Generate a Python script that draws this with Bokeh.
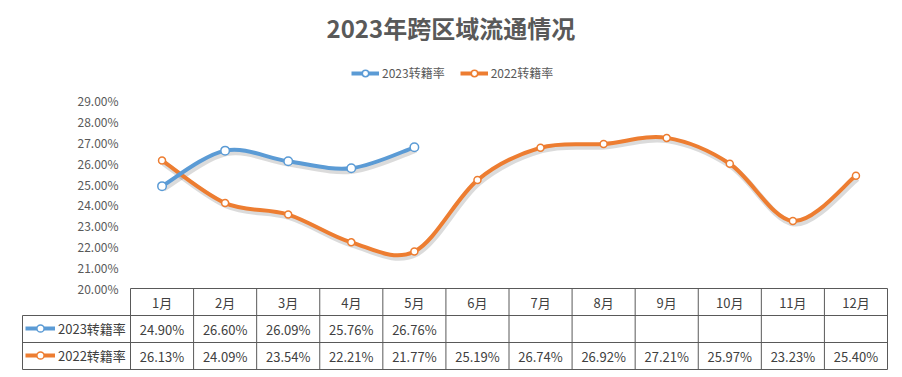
import numpy as np
from bokeh.plotting import figure
from bokeh.models import Range1d, Legend, LegendItem
from bokeh.core.properties import value
from bokeh.embed import file_html
from bokeh.resources import INLINE

# ---------------- data ----------------
title_text = "2023年跨区域流通情况"
months = ["1月", "2月", "3月", "4月", "5月", "6月", "7月", "8月", "9月", "10月", "11月", "12月"]
name_2023 = "2023转籍率"
name_2022 = "2022转籍率"
rate_2023 = [0.2490, 0.2660, 0.2609, 0.2576, 0.2676]
rate_2022 = [0.2613, 0.2409, 0.2354, 0.2221, 0.2177, 0.2519,
             0.2674, 0.2692, 0.2721, 0.2597, 0.2323, 0.2540]
y_ticks = [0.20, 0.21, 0.22, 0.23, 0.24, 0.25, 0.26, 0.27, 0.28, 0.29]
y_tick_labels = ["20.00%", "21.00%", "22.00%", "23.00%", "24.00%",
                 "25.00%", "26.00%", "27.00%", "28.00%", "29.00%"]

# ---------------- style / layout ----------------
FONT = "Noto Sans CJK SC"
BLUE = "#5B9BD5"
ORANGE = "#ED7D31"
GRID = "#595959"
TXT = "#404040"
W, H = 902, 377
F_LEFT, F_RIGHT, F_TOP, F_BOTTOM = 20, 890, 50, 374    # frame in pixels
PLOT_LEFT_PX = 130                                     # x pixel of the first month column edge
TABLE_LEFT_PX = 22
COL_W = (887 - 130) / 12.0                             # px per month column
PX_PER_UNIT = (288 - 100) / 0.09                       # px per 1.0 of rate
ROW_H = 27.0
TABLE_BOTTOM = 369
AXIS_BOTTOM_PX = 288
TICK_LABEL_RIGHT_PX = 118
KEY_H = 18

frame_w = F_RIGHT - F_LEFT
frame_h = F_BOTTOM - F_TOP
x0r = -(PLOT_LEFT_PX - F_LEFT) / COL_W
x_range = Range1d(x0r, x0r + frame_w / COL_W)
y0 = y_ticks[0] - (F_BOTTOM - AXIS_BOTTOM_PX) / PX_PER_UNIT
y_range = Range1d(y0, y0 + frame_h / PX_PER_UNIT)

p = figure(width=W, height=H, x_range=x_range, y_range=y_range,
           output_backend="svg", toolbar_location=None,
           x_axis_location=None, y_axis_location=None,
           min_border_left=F_LEFT, min_border_right=W - F_RIGHT,
           min_border_top=F_TOP, min_border_bottom=H - F_BOTTOM,
           title=title_text)
p.extra_y_ranges = {"table": Range1d(-(F_BOTTOM - TABLE_BOTTOM) / ROW_H,
                                     (TABLE_BOTTOM - F_TOP) / ROW_H)}
p.outline_line_color = None
p.xgrid.visible = False
p.ygrid.visible = False
p.background_fill_color = "white"
p.border_fill_color = "white"

p.title.align = "left"
p.title.offset = 306
p.title.standoff = 12
p.title.text_font = FONT
p.title.text_font_size = "24px"
p.title.text_font_style = "bold"
p.title.text_color = "#595959"

# y tick labels (value axis), placed through the y scale
tick_x = (TICK_LABEL_RIGHT_PX - PLOT_LEFT_PX) / COL_W
p.text(x=[tick_x] * len(y_ticks), y=y_ticks, text=y_tick_labels,
       text_align="right", text_baseline="middle", text_font=value(FONT),
       text_font_size="12px", text_color="#595959")


def smooth_segments(xs, ys, t=1.0 / 6.0):
    P = np.column_stack([np.asarray(xs, float), np.asarray(ys, float)])
    n = len(P)
    out = {k: [] for k in ("x0", "y0", "x1", "y1", "cx0", "cy0", "cx1", "cy1")}
    for i in range(n - 1):
        pp = P[max(i - 1, 0)]
        a = P[i]
        b = P[i + 1]
        nn = P[min(i + 2, n - 1)]
        c0 = a + (b - pp) * t
        c1 = b - (nn - a) * t
        out["x0"].append(a[0]); out["y0"].append(a[1])
        out["x1"].append(b[0]); out["y1"].append(b[1])
        out["cx0"].append(c0[0]); out["cy0"].append(c0[1])
        out["cx1"].append(c1[0]); out["cy1"].append(c1[1])
    return out


x23 = np.arange(len(rate_2023)) + 0.5
x22 = np.arange(len(rate_2022)) + 0.5

# soft shadows
SDX = 1.5 / COL_W
SDY = -2.5 / PX_PER_UNIT
for xs, ys in ((x22, rate_2022), (x23, rate_2023)):
    s = smooth_segments(xs + SDX, np.asarray(ys) + SDY)
    p.bezier(line_color="#000000", line_alpha=0.14, line_width=6, **s)

seg22 = smooth_segments(x22, rate_2022)
r22_line = p.bezier(line_color=ORANGE, line_width=4, **seg22)
seg23 = smooth_segments(x23, rate_2023)
r23_line = p.bezier(line_color=BLUE, line_width=4, **seg23)
r22_pts = p.scatter(x22, rate_2022, size=7, marker="circle", fill_color="white",
                    line_color=ORANGE, line_width=1.5)
r23_pts = p.scatter(x23, rate_2023, size=8.5, marker="circle", fill_color="white",
                    line_color=BLUE, line_width=1.5)

# ---------------- data table ----------------
n = len(months)
tl = (TABLE_LEFT_PX - PLOT_LEFT_PX) / COL_W
p.segment(x0=[tl, tl, tl, 0], y0=[0, 1, 2, 3], x1=[n] * 4, y1=[0, 1, 2, 3],
          y_range_name="table", line_color=GRID, line_width=1)
vx = list(range(n + 1))
p.segment(x0=vx, y0=[0] * (n + 1), x1=vx, y1=[3] * (n + 1), y_range_name="table",
          line_color=GRID, line_width=1)
p.segment(x0=[tl], y0=[0], x1=[tl], y1=[2], y_range_name="table",
          line_color=GRID, line_width=1)

centers = np.arange(n) + 0.5
txt_kw = dict(y_range_name="table", text_align="center", text_baseline="middle",
              text_font=value(FONT), text_font_size="13px", text_color=TXT)
p.text(x=centers, y=[2.5] * n, text=months, **txt_kw)
p.text(x=x23, y=[1.5] * len(rate_2023), text=[f"{v * 100:.2f}%" for v in rate_2023], **txt_kw)
p.text(x=x22, y=[0.5] * len(rate_2022), text=[f"{v * 100:.2f}%" for v in rate_2022], **txt_kw)

# ---------------- legends ----------------
top_legend = Legend(items=[LegendItem(label=name_2023, renderers=[r23_line, r23_pts]),
                           LegendItem(label=name_2022, renderers=[r22_line, r22_pts])],
                    orientation="horizontal", location=(351 - F_LEFT, F_BOTTOM - 65 - 16),
                    glyph_width=28, glyph_height=16, label_height=16, label_standoff=3,
                    spacing=15, padding=0, margin=0, border_line_color=None,
                    background_fill_alpha=0, label_text_font=FONT,
                    label_text_font_size="12px", label_text_color="#595959")
p.add_layout(top_legend, "center")

for item_name, rl, rp, bottom_px in ((name_2023, r23_line, r23_pts, TABLE_BOTTOM - ROW_H),
                                     (name_2022, r22_line, r22_pts, TABLE_BOTTOM)):
    lg = Legend(items=[LegendItem(label=item_name, renderers=[rl, rp])],
                location=(TABLE_LEFT_PX + 3 - F_LEFT,
                          F_BOTTOM - bottom_px + (ROW_H - KEY_H) / 2),
                glyph_width=30, glyph_height=KEY_H, label_height=KEY_H,
                label_standoff=3, padding=0, margin=0, spacing=0,
                border_line_color=None, background_fill_alpha=0,
                label_text_font=FONT, label_text_font_size="13px",
                label_text_color=TXT)
    p.add_layout(lg, "center")

open("out.html", "w").write(file_html(p, INLINE))
